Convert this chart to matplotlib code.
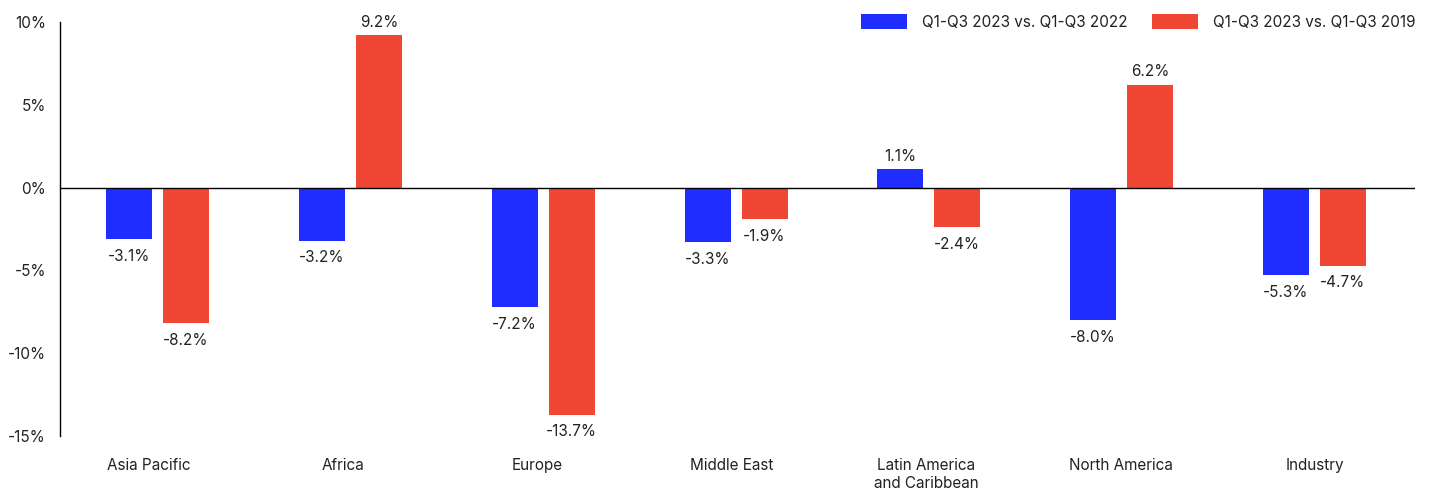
import matplotlib.pyplot as plt
import numpy as np

plt.rcParams['font.family'] = ['Inter', 'DejaVu Sans']

regions = ['Asia Pacific', 'Africa', 'Europe', 'Middle East',
           'Latin America\nand Caribbean', 'North America', 'Industry']
vs_2022 = [-3.1, -3.2, -7.2, -3.3, 1.1, -8.0, -5.3]
vs_2019 = [-8.2, 9.2, -13.7, -1.9, -2.4, 6.2, -4.7]
series_names = ['Q1-Q3 2023 vs. Q1-Q3 2022', 'Q1-Q3 2023 vs. Q1-Q3 2019']
yticks = [10, 5, 0, -5, -10, -15]

blue = '#1F2EFF'
red = '#EF4733'

fig = plt.figure(figsize=(14.32, 4.9), dpi=100)
ax = fig.add_axes([0.0419, 0.110, 0.9462, 0.845])

x = np.arange(len(regions))
w = 0.2386
off = 0.1478
b1 = ax.bar(x - off, vs_2022, w, color=blue, label=series_names[0])
b2 = ax.bar(x + off, vs_2019, w, color=red, label=series_names[1])

# value labels above/below each bar
for bars, vals in [(b1, vs_2022), (b2, vs_2019)]:
    for bar, v in zip(bars, vals):
        cx = bar.get_x() + bar.get_width() / 2
        if v >= 0:
            ax.annotate(f'{v:.1f}%', (cx, v), xytext=(0, 4), textcoords='offset points',
                        ha='center', va='bottom', fontsize=11, color='#222222')
        else:
            ax.annotate(f'{v:.1f}%', (cx, v), xytext=(0, -7), textcoords='offset points',
                        ha='center', va='top', fontsize=11, color='#222222')

ax.axhline(0, color='black', lw=1, zorder=3)
ax.set_xlim(-0.506, 6.521)
ax.set_ylim(-15, 10)
ax.set_yticks(yticks)
ax.set_yticklabels([f'{t}%' for t in yticks])
# category labels sit slightly off the bar groups in the original
ax.set_xticks(x * 1.0082 - 0.047)
ax.set_xticklabels(regions, va='top', linespacing=1.25)
ax.tick_params(axis='y', length=0, pad=10, labelsize=11, labelcolor='#222222')
ax.tick_params(axis='x', length=0, pad=16, labelsize=11, labelcolor='#222222')

for s in ['top', 'right', 'bottom']:
    ax.spines[s].set_visible(False)
ax.spines['left'].set_color('black')
ax.spines['left'].set_linewidth(1)

ax.legend(loc='upper right', bbox_to_anchor=(1.005, 1.035), ncol=2, frameon=False,
          fontsize=11, handlelength=3.0, handleheight=1.2, handletextpad=1.0,
          columnspacing=1.6, borderaxespad=0, labelcolor='#222222')

fig.savefig('out.png', dpi=100)
